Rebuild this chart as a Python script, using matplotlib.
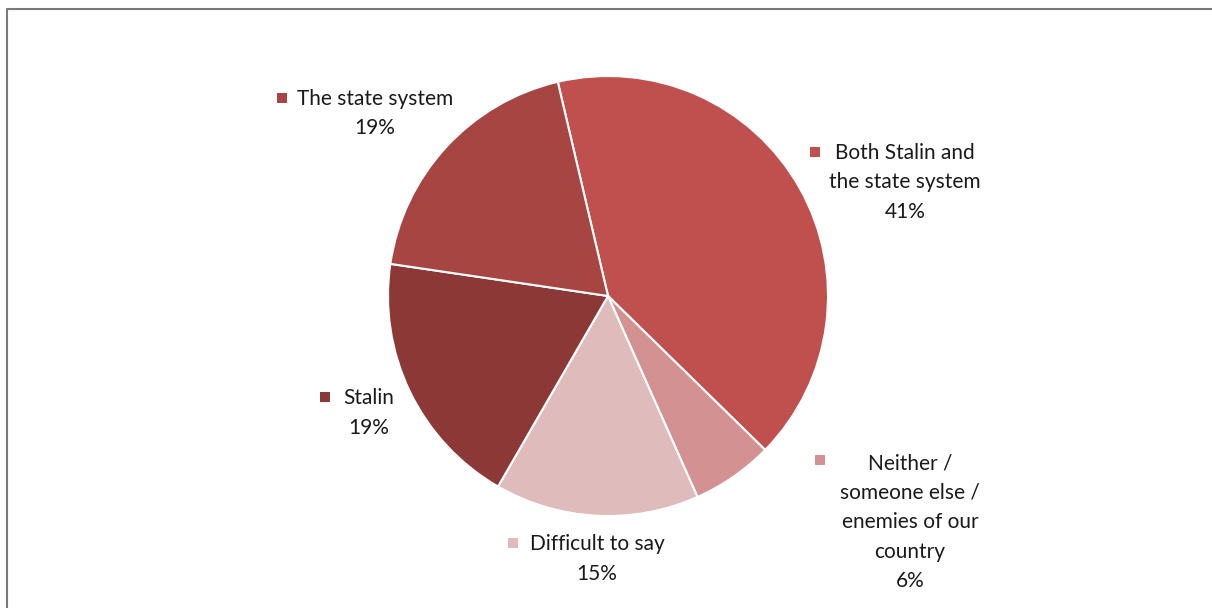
import matplotlib
matplotlib.use("Agg")
import matplotlib.pyplot as plt
from matplotlib.patches import Rectangle
from matplotlib.lines import Line2D

# Survey answers, clockwise from the top
categories = ["Both Stalin and\nthe state system",
              "Neither /\nsomeone else /\nenemies of our\ncountry",
              "Difficult to say",
              "Stalin",
              "The state system"]
shares = [41, 6, 15, 19, 19]
colors = ["#C0504D", "#D39191", "#E0BBBB", "#8C3836", "#A74542"]

W, H = 1212, 608
DPI = 100
fig = plt.figure(figsize=(W / DPI, H / DPI), dpi=DPI)
fig.patch.set_facecolor("white")


def fx(x):
    return x / W


def fy(y):
    return 1 - y / H


# Pie area: centre (608, 296), radius 220 px
cx, cy, r = 608, 296, 220
ax = fig.add_axes([fx(cx - r), fy(cy + r), 2 * r / W, 2 * r / H])
ax.pie(shares, colors=colors, startangle=103.2, counterclock=False,
       radius=1.0, wedgeprops=dict(edgecolor="white", linewidth=1.5))
ax.set_xlim(-1, 1)
ax.set_ylim(-1, 1)
ax.set_aspect("equal")
ax.axis("off")

# Data labels: category + percentage, with a colour key square
label_pos = [  # (block centre x, first-line y, square x, square y)
    (905, 153, 810, 147),
    (910, 463, 815, 455),
    (597, 544, 508, 538),
    (369, 398, 320, 392),
    (375, 99, 277, 93),
]
step = 29.5
font = dict(family=["Lato", "DejaVu Sans"], fontsize=15, color="#1a1a1a")
for cat, val, col, (tx, ty, sx, sy) in zip(categories, shares, colors, label_pos):
    lines = cat.split("\n") + [f"{val}%"]
    for i, line in enumerate(lines):
        fig.text(fx(tx), fy(ty + i * step), line, ha="center", va="center", **font)
    fig.add_artist(Rectangle((fx(sx), fy(sy + 10)), 10 / W, 10 / H,
                             transform=fig.transFigure, facecolor=col,
                             edgecolor="none"))

# Chart frame (top and left edges)
fig.add_artist(Line2D([fx(7), fx(7), fx(W)], [fy(H), fy(9), fy(9)],
                      transform=fig.transFigure, color="#7a7a7a", linewidth=1.5))

fig.savefig("out.png", dpi=DPI, facecolor="white")
